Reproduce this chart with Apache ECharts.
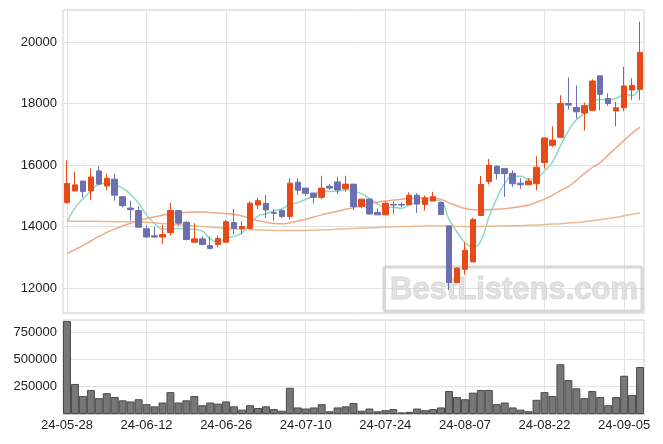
<!DOCTYPE html>
<html>
<head>
<meta charset="utf-8">
<script src="https://cdn.jsdelivr.net/npm/echarts@6/dist/echarts.min.js"></script>
<style>
html,body{margin:0;padding:0;background:#fff;}
#chart{width:663px;height:444px;}
</style>
</head>
<body>
<div id="chart"></div>
<script>
const dates = ['24-05-28','24-05-29','24-05-30','24-05-31','24-06-03','24-06-04','24-06-05','24-06-07','24-06-10','24-06-11',
'24-06-12','24-06-13','24-06-14','24-06-17','24-06-18','24-06-19','24-06-20','24-06-21','24-06-24','24-06-25',
'24-06-26','24-06-27','24-06-28','24-07-01','24-07-02','24-07-03','24-07-04','24-07-05','24-07-08','24-07-09',
'24-07-10','24-07-11','24-07-12','24-07-15','24-07-16','24-07-17','24-07-18','24-07-19','24-07-22','24-07-23',
'24-07-24','24-07-25','24-07-26','24-07-29','24-07-30','24-07-31','24-08-01','24-08-02','24-08-05','24-08-06',
'24-08-07','24-08-08','24-08-09','24-08-12','24-08-13','24-08-14','24-08-16','24-08-19','24-08-20','24-08-21',
'24-08-22','24-08-23','24-08-26','24-08-27','24-08-28','24-08-29','24-08-30','24-09-02','24-09-03','24-09-04',
'24-09-05','24-09-06','24-09-09'];

const openP = [14780,15160,15480,15160,15810,15320,15540,14970,14600,14520,
13930,13700,13660,13800,14520,14140,13490,13600,13380,13420,
13490,14130,13940,13940,14700,14750,14460,14520,14330,15440,
15250,15090,14950,15310,15450,15230,15380,14650,14890,14460,
14380,14720,14720,14710,15020,14720,14830,14780,14020,12180,
12610,12850,14360,15460,15960,15890,15730,15410,15360,15390,
16080,16640,16900,18000,17870,17690,17780,18900,18160,17760,
17860,18440,18460];

const closeP = [15397,15355,15140,15610,15380,15570,15020,14680,14550,13980,
13660,13660,13740,14520,14110,13580,13600,13420,13290,13610,
14160,13940,14000,14760,14840,14540,14430,14330,15410,15180,
15080,14950,15250,15250,15190,15380,14650,14890,14410,14380,
14760,14700,14700,15020,14730,14930,14970,14390,12180,12650,
13230,14230,15370,15990,15720,15720,15390,15360,15480,15930,
16880,16810,18000,17950,17730,17930,18730,18300,18000,17860,
18570,18590,19660];

const lowP = [14740,15140,14950,14860,15345,15180,14840,14620,14190,13960,
13640,13650,13440,13710,14030,13550,13490,13390,13260,13330,
13490,13740,13760,13930,14570,14280,14190,14280,14230,15030,
14990,14750,14890,15190,15060,15130,14540,14590,14380,14380,
14370,14410,14620,14700,14440,14520,14830,14390,11940,12170,
12440,12850,14350,15370,15530,14960,15290,15220,15360,15180,
15880,16590,16880,17800,17510,17120,17770,17780,17930,17260,
17750,18110,18110];

const highP = [16150,15780,15480,15890,15970,15720,15720,14990,14840,14650,
14030,14000,14060,14770,14520,14170,14110,13680,13680,13710,
14220,14570,14170,14820,14940,15030,14570,14570,15570,15570,
15250,15090,15650,15380,15620,15650,15380,14910,14930,14590,
14820,14820,14780,15110,15090,15010,15130,14780,14020,12680,
13490,14280,15640,16200,15990,15900,15830,15570,15570,16290,
16900,17260,18270,18850,18590,18030,18790,18900,18330,18050,
19200,18820,20660];

const ma5 = [14160,14600,14900,15150,15376,15410,15344,15250,15040,14760,
14380,14100,13920,13910,13940,13920,13910,13850,13600,13500,
13620,13680,13800,14090,14340,14416,14514,14580,14710,14778,
14886,14990,15174,15142,15144,15204,15144,15072,14904,14742,
14618,14628,14590,14712,14782,14816,14870,14808,14240,13824,
13484,13336,13532,14294,14908,15406,15638,15636,15534,15576,
15808,16092,16620,17114,17474,17684,18068,18128,18138,18164,
18292,18264,18536];

const ma20 = [13120,13250,13380,13530,13680,13810,13920,14020,14110,14190,
14260,14320,14370,14410,14440,14460,14470,14470,14460,14440,
14420,14390,14340,14260,14190,14140,14100,14090,14120,14180,
14240,14310,14380,14440,14500,14560,14620,14680,14740,14790,
14830,14860,14890,14910,14920,14930,14930,14880,14770,14670,
14590,14550,14540,14550,14560,14580,14610,14650,14700,14790,
14890,15020,15170,15300,15500,15720,15920,16080,16330,16560,
16800,17030,17230];

const ma60 = [14170,14170,14170,14170,14170,14165,14160,14160,14155,14150,
14140,14120,14100,14080,14060,14040,14020,14000,13980,13960,
13940,13925,13910,13900,13890,13880,13875,13870,13870,13870,
13875,13880,13890,13900,13915,13930,13940,13950,13960,13970,
13980,13990,14000,14005,14010,14015,14020,14020,14015,14005,
14000,14000,14005,14010,14015,14020,14025,14030,14040,14050,
14065,14080,14095,14115,14135,14160,14190,14220,14260,14300,
14350,14400,14450];

const volume = [850000,275000,165000,220000,145000,190000,155000,125000,115000,135000,
90000,70000,105000,200000,105000,125000,165000,80000,105000,95000,
115000,70000,40000,80000,55000,70000,45000,30000,240000,60000,
50000,60000,90000,25000,60000,70000,100000,30000,50000,25000,
35000,45000,15000,20000,50000,35000,45000,60000,210000,155000,
135000,195000,220000,220000,90000,105000,60000,40000,25000,130000,
200000,165000,455000,310000,235000,145000,210000,155000,80000,155000,
350000,175000,430000];

const candleData = openP.map((o, i) => [o, closeP[i], lowP[i], highP[i]]);

const FONT = 'Liberation Sans';
const gridColor = '#e2e2e2';

const chart = echarts.init(document.getElementById('chart'), null, {renderer: 'canvas'});
chart.setOption({
  animation: false,
  backgroundColor: '#fff',
  textStyle: {fontFamily: FONT},
  grid: [
    {left: 63, right: 19, top: 10, height: 303, show: true, borderColor: '#d0d0d0', borderWidth: 1},
    {left: 63, right: 19, top: 320, height: 94, show: true, borderColor: '#d0d0d0', borderWidth: 1}
  ],
  xAxis: [
    {type: 'category', gridIndex: 0, data: dates, boundaryGap: true,
     axisLabel: {show: false}, axisTick: {show: false}, axisLine: {show: false},
     splitLine: {show: true, interval: 9, alignWithLabel: true, lineStyle: {color: gridColor}}},
    {type: 'category', gridIndex: 1, data: dates, boundaryGap: true,
     axisLabel: {show: true, interval: 9, margin: 5, fontSize: 13, color: '#222', fontFamily: FONT},
     axisTick: {show: false}, axisLine: {show: true, lineStyle: {color: '#c8c8c8'}},
     splitLine: {show: true, interval: 9, alignWithLabel: true, lineStyle: {color: gridColor}}}
  ],
  yAxis: [
    {type: 'value', gridIndex: 0, min: 11190, max: 21040, scale: true,
     axisLine: {show: false}, axisTick: {show: false},
     axisLabel: {fontSize: 13, color: '#222', margin: 6, showMinLabel: false, showMaxLabel: false,
       formatter: v => (v % 2000 === 0 ? String(v) : '')},
     splitLine: {show: true, lineStyle: {color: gridColor}}},
    {type: 'value', gridIndex: 1, min: 0, max: 860000, interval: 250000,
     axisLine: {show: false}, axisTick: {show: false},
     axisLabel: {fontSize: 13, color: '#222', margin: 6, showMinLabel: false, showMaxLabel: false,
       formatter: v => (v % 250000 === 0 ? String(v) : '')},
     splitLine: {show: true, lineStyle: {color: gridColor}}}
  ],
  graphic: [
    {type: 'rect', z: 1, silent: true,
     shape: {x: 384, y: 267, width: 258, height: 44, r: 2},
     style: {fill: 'rgba(255,255,255,0)', stroke: 'rgba(200,200,200,0.7)', lineWidth: 3}},
    {type: 'text', z: 1, silent: true, x: 390, y: 290,
     style: {text: 'BestListens.com', font: 'bold 31px "Liberation Sans"', fill: 'rgba(215,215,215,0.7)',
             stroke: 'rgba(190,190,190,0.6)', lineWidth: 1, textVerticalAlign: 'middle'}}
  ],
  series: [
    {type: 'candlestick', xAxisIndex: 0, yAxisIndex: 0, data: candleData, barWidth: 6, z: 5,
     itemStyle: {color: '#e64a19', color0: '#6b70b0', borderColor: '#e64a19', borderColor0: '#6b70b0', borderWidth: 1}},
    {type: 'line', xAxisIndex: 0, yAxisIndex: 0, data: ma5, smooth: true, showSymbol: false, z: 4,
     lineStyle: {color: '#8fd9c0', width: 1.5}},
    {type: 'line', xAxisIndex: 0, yAxisIndex: 0, data: ma20, smooth: true, showSymbol: false, z: 4,
     lineStyle: {color: '#f0a88a', width: 1.5}},
    {type: 'line', xAxisIndex: 0, yAxisIndex: 0, data: ma60, smooth: true, showSymbol: false, z: 4,
     lineStyle: {color: '#e9bb8f', width: 1.5}},
    {type: 'bar', xAxisIndex: 1, yAxisIndex: 1, data: volume, barCategoryGap: '0%', z: 5,
     itemStyle: {color: '#777777', borderColor: '#4a4a4a', borderWidth: 1}}
  ]
});
</script>
</body>
</html>
